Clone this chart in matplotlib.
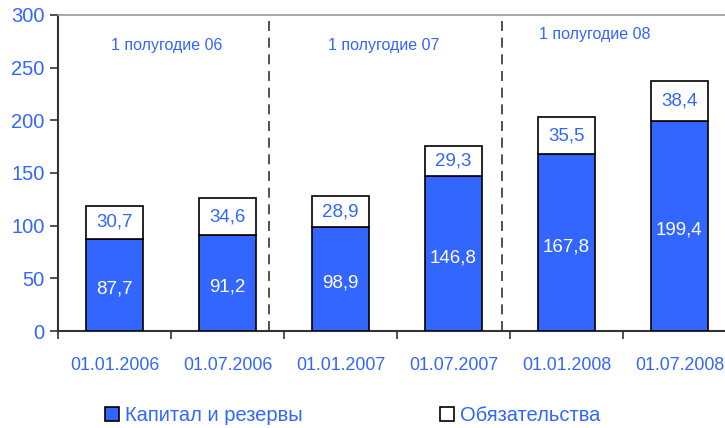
import numpy as np
import matplotlib
matplotlib.use('Agg')
import matplotlib.pyplot as plt

plt.rcParams['font.family'] = ['Liberation Sans', 'DejaVu Sans']

dates = ['01.01.2006', '01.07.2006', '01.01.2007', '01.07.2007', '01.01.2008', '01.07.2008']
capital = [87.7, 91.2, 98.9, 146.8, 167.8, 199.4]
liabilities = [30.7, 34.6, 28.9, 29.3, 35.5, 38.4]
periods = ['1 полугодие 06', '1 полугодие 07', '1 полугодие 08']

blue = '#3366FF'
x = np.arange(len(dates))

fig = plt.figure(figsize=(7.25, 4.28), dpi=100)
ax = fig.add_axes([0.08, 0.2266, 0.935, 0.7384])

ax.bar(x, capital, width=0.5, color=blue, edgecolor='black', linewidth=1.2,
       label='Капитал и резервы', zorder=3)
ax.bar(x, liabilities, width=0.5, bottom=capital, color='white', edgecolor='black',
       linewidth=1.2, label='Обязательства', zorder=3)

for i in range(len(x)):
    ax.text(x[i], capital[i] / 2 - 4, str(capital[i]).replace('.', ','), ha='center', va='center',
            color='white', fontsize=13.5, zorder=4)
    ax.text(x[i], capital[i] + liabilities[i] / 2, str(liabilities[i]).replace('.', ','),
            ha='center', va='center', color=blue, fontsize=13.5, zorder=4)

# period separators
for xv in [1.37, 3.43]:
    ax.plot([xv, xv], [0, 295], color='#333333', linestyle=(0, (6, 4)), linewidth=1.2, zorder=2)

ax.text(0.46, 271, periods[0], ha='center', va='center', color=blue, fontsize=11.5)
ax.text(2.38, 271, periods[1], ha='center', va='center', color=blue, fontsize=11.5)
ax.text(4.25, 281, periods[2], ha='center', va='center', color=blue, fontsize=11.5)

ax.set_xlim(-0.5, 5.5)
ax.set_ylim(0, 300)
ax.set_yticks(range(0, 301, 50))
ax.tick_params(axis='y', colors='#333333', labelcolor=blue, labelsize=14.5, length=6, width=1.2)

ax.set_xticks(np.arange(-0.5, 6, 1))
ax.set_xticklabels([])
ax.tick_params(axis='x', which='major', colors='#333333', length=6, width=1.2)
ax.set_xticks(x, minor=True)
ax.set_xticklabels(dates, minor=True)
ax.tick_params(axis='x', which='minor', length=0, pad=19, labelcolor=blue, labelsize=12.8)

ax.spines['left'].set_color('#333333')
ax.spines['left'].set_linewidth(1.5)
ax.spines['bottom'].set_color('#333333')
ax.spines['bottom'].set_linewidth(1.5)
ax.spines['top'].set_color('#999999')
ax.spines['top'].set_linewidth(1.2)
ax.spines['right'].set_visible(False)

leg = fig.legend(loc='lower left', bbox_to_anchor=(0.12, -0.035), ncol=2, frameon=False,
                 fontsize=14.5, handlelength=0.7, handleheight=0.7, handletextpad=0.3,
                 columnspacing=6.8)
for t in leg.get_texts():
    t.set_color(blue)

fig.savefig('out.png', dpi=100)
